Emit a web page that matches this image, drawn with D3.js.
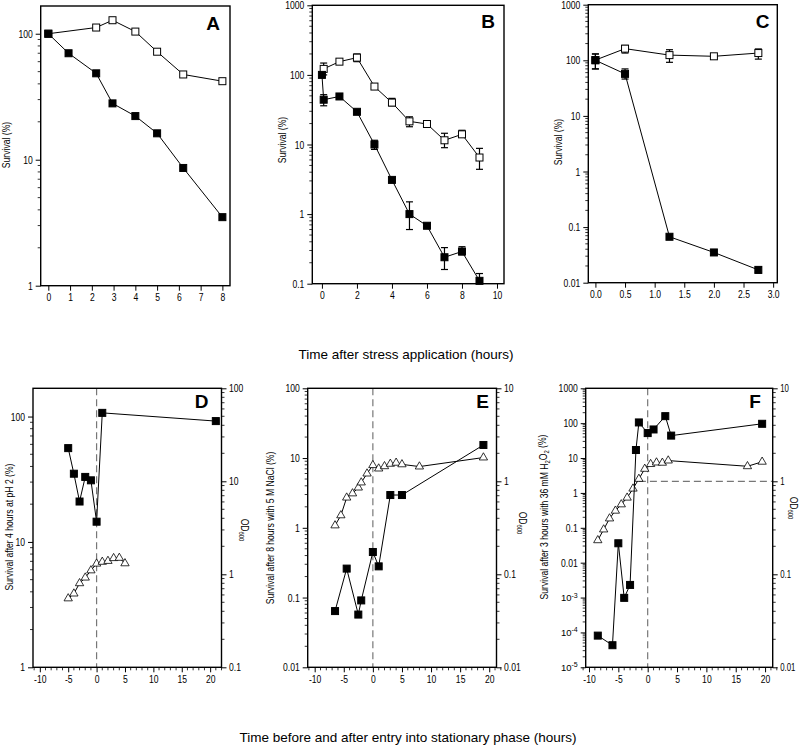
<!DOCTYPE html>
<html><head><meta charset="utf-8">
<script src="https://cdn.jsdelivr.net/npm/d3@7"></script>
<style>
body{margin:0;background:#fff;}
</style></head><body>
<svg id="c" width="800" height="748" style="background:#fff"></svg>
<script>
// ---------- DATA ----------
// Panel A
const aOpenTime   = [0, 2.2, 2.95, 4, 5, 6.2, 8];
const aOpenSurv   = [100, 112, 128, 104, 72, 47.5, 42];
const aFilledTime = [0, 0.93, 2.2, 2.95, 4, 5, 6.2, 8];
const aFilledSurv = [100, 70, 48.5, 28, 22.2, 16.2, 8.6, 3.5];
// Panel B
const bOpenTime   = [0.1, 1, 2, 3, 4, 5, 6, 7, 8, 9];
const bOpenSurv   = [122, 155, 177, 68, 40, 21.5, 19.7, 11.5, 14, 6.5];
const bOpenLo     = [100, null, 155, 63, 36, 18, null, 9, 13, 4.4];
const bOpenHi     = [148, null, 200, 74, 46, 25, null, 14.5, 16, 8.8];
const bFilledTime = [0, 0.1, 1, 2, 3, 4, 5, 6, 7, 8, 9];
const bFilledSurv = [100, 44, 49, 29.5, 10, 3.1, 1.0, 0.68, 0.24, 0.29, 0.11];
const bFilledLo   = [null, 36, null, null, 8.5, null, 0.6, null, 0.16, 0.26, 0.1];
const bFilledHi   = [null, 52, null, null, 11.5, null, 1.5, null, 0.33, 0.34, 0.14];
// Panel C
const cTime       = [0, 0.5, 1.25, 2, 2.75];
const cOpenSurv   = [101, 162, 124, 118, 135];
const cOpenLo     = [70, 135, 92, 112, 105];
const cOpenHi     = [130, 185, 155, 124, 160];
const cFilledSurv = [100, 57, 0.067, 0.035, 0.017];
const cFilledLo   = [70, 46, null, null, 0.015];
const cFilledHi   = [130, 70, null, null, 0.019];
// Panel D
const dSurvTime = [-5, -4, -3, -2, -1, 0, 1, 21];
const dSurv     = [56, 35, 21, 33, 31, 14.5, 107, 92];
const dOdTime   = [-5, -4, -3, -2, -1, 0, 1, 2, 3, 4, 5];
const dOd       = [0.55, 0.62, 0.8, 0.92, 1.1, 1.3, 1.36, 1.39, 1.49, 1.5, 1.31];
// Panel E
const eSurvTime = [-6.5, -4.5, -2.5, -2, 0, 1, 3, 5, 19];
const eSurv     = [0.064, 0.26, 0.057, 0.091, 0.45, 0.28, 2.95, 2.95, 15.4];
const eOdTime   = [-6.5, -5.5, -4.5, -3.5, -2.5, -2, -1, 0, 1, 2, 3, 4, 5, 8, 19];
const eOd       = [0.335, 0.43, 0.667, 0.74, 0.855, 0.97, 1.21, 1.49, 1.37, 1.45, 1.54, 1.58, 1.52, 1.44, 1.8];
// Panel F
const fSurvTime = [-8.5, -6, -5, -4, -3, -2, -1.5, 0, 1, 3, 4, 19.5];
const fSurv     = [8.1e-5, 4.3e-5, 0.036, 9.8e-4, 2.3e-3, 17, 105, 52, 66, 159, 44, 96];
const fOdTime   = [-8.5, -7.5, -6.5, -5.5, -4.5, -3.5, -2.5, -1.5, -0.5, 0.5, 1.5, 2.5, 3.5, 17, 19.5];
const fOd       = [0.232, 0.303, 0.398, 0.482, 0.564, 0.666, 0.833, 1.06, 1.36, 1.53, 1.59, 1.58, 1.67, 1.45, 1.62];

// Tick values / labels
const xTicksA = [0,1,2,3,4,5,6,7,8];
const xLabelsA = ["0","1","2","3","4","5","6","7","8"];
const xTicksB = [0,2,4,6,8,10];
const xLabelsB = ["0","2","4","6","8","10"];
const xTicksC = [0,0.5,1,1.5,2,2.5,3];
const xLabelsC = ["0.0","0.5","1.0","1.5","2.0","2.5","3.0"];
const xTicksBottom = [-10,-5,0,5,10,15,20];
const xLabelsBottom = ["-10","-5","0","5","10","15","20"];
const yTicksA = [1,10,100];           const yLabelsA = ["1","10","100"];
const yTicksB = [0.1,1,10,100,1000];  const yLabelsB = ["0.1","1","10","100","1000"];
const yTicksC = [0.01,0.1,1,10,100,1000]; const yLabelsC = ["0.01","0.1","1","10","100","1000"];
const yTicksD = [1,10,100];           const yLabelsD = ["1","10","100"];
const y2TicksD = [0.1,1,10,100];      const y2LabelsD = ["0.1","1","10","100"];
const yTicksE = [0.01,0.1,1,10,100];  const yLabelsE = ["0.01","0.1","1","10","100"];
const y2TicksE = [0.01,0.1,1,10];     const y2LabelsE = ["0.01","0.1","1","10"];
const yTicksF = [1e-5,1e-4,1e-3,0.01,0.1,1,10,100,1000];
const yLabelsF = ["10^-5","10^-4","10^-3","0.01","0.1","1","10","100","1000"];
const y2TicksF = [0.01,0.1,1,10];     const y2LabelsF = ["0.01","0.1","1","10"];

// ---------- DRAW ----------
const FONT = '"Liberation Sans",Arial,sans-serif';
const FS = 11, CONDENSE = 0.78;
const svg = d3.select('#c');

function condense(sel, f){
  sel.each(function(){
    if(this.querySelector('tspan') && !this.dataset.allow) return;
    const w = this.getComputedTextLength();
    if(w>0) d3.select(this).attr('textLength', w*f).attr('lengthAdjust','spacingAndGlyphs');
  });
}
function logMinor(dom){
  const [a,b] = dom, out=[];
  for(let e=Math.floor(Math.log10(a))-1; e<=Math.ceil(Math.log10(b)); e++)
    for(let k=2;k<=9;k++){ const v=k*Math.pow(10,e); if(v>a*1.0001 && v<b*0.9999) out.push(v); }
  return out;
}
function fmtLabels(sel){
  sel.selectAll('text').each(function(){
    const t = d3.select(this), s = t.text();
    if(s.indexOf('^')>=0){
      const [base,exp] = s.split('^');
      t.text(null).attr('font-size',9.5);
      t.append('tspan').text(base);
      t.append('tspan').attr('dy','-0.5em').attr('font-size','7px').text(exp);
    }
  });
}

function drawPanel(p){
  const x = d3.scaleLinear().domain(p.xDomain).range([p.left,p.right]);
  const y = d3.scaleLog().domain(p.yDomain).range([p.bottom,p.top]);
  const y2 = p.y2Domain ? d3.scaleLog().domain(p.y2Domain).range([p.bottom,p.top]) : null;
  const g = svg.append('g');

  // x axis
  g.append('g').attr('transform',`translate(0,${p.bottom})`)
    .call(d3.axisBottom(x).tickValues(p.xTicks).tickFormat((d,i)=>p.xLabels[i]).tickSize(5).tickPadding(3))
    .call(a=>a.select('.domain').remove())
    .attr('font-family',FONT).attr('font-size',FS)
    .call(a=>condense(a.selectAll('text'),CONDENSE));
  if(p.xMinor){
    g.append('g').selectAll('line').data(p.xMinor).join('line')
      .attr('x1',d=>x(d)).attr('x2',d=>x(d)).attr('y1',p.bottom).attr('y2',p.bottom+3)
      .attr('stroke','#000').attr('stroke-width',0.8);
  }
  // left axis
  g.append('g').attr('transform',`translate(${p.left},0)`)
    .call(d3.axisLeft(y).tickValues(p.yTicks).tickFormat((d,i)=>p.yLabels[i]).tickSize(5).tickPadding(3))
    .call(a=>a.select('.domain').remove())
    .attr('font-family',FONT).attr('font-size',FS)
    .call(fmtLabels)
    .call(a=>condense(a.selectAll('text'),CONDENSE));
  g.append('g').selectAll('line').data(logMinor(p.yDomain)).join('line')
    .attr('x1',p.left).attr('x2',p.left-3).attr('y1',d=>y(d)).attr('y2',d=>y(d))
    .attr('stroke','#000').attr('stroke-width',0.8);
  // right axis
  if(y2){
    g.append('g').attr('transform',`translate(${p.right},0)`)
      .call(d3.axisRight(y2).tickValues(p.y2Ticks).tickFormat((d,i)=>p.y2Labels[i]).tickSize(5).tickPadding(2.5))
      .call(a=>a.select('.domain').remove())
      .attr('font-family',FONT).attr('font-size',p.y2FontSize || FS)
      .call(a=>condense(a.selectAll('text'),CONDENSE));
    g.append('g').selectAll('line').data(logMinor(p.y2Domain)).join('line')
      .attr('x1',p.right).attr('x2',p.right+3).attr('y1',d=>y2(d)).attr('y2',d=>y2(d))
      .attr('stroke','#000').attr('stroke-width',0.8);
  }
  // dashed reference lines
  if(p.zeroLine){
    g.append('line').attr('x1',x(0)).attr('x2',x(0)).attr('y1',p.top).attr('y2',p.bottom)
      .attr('stroke','#777').attr('stroke-width',1.2).attr('stroke-dasharray','7,4');
  }
  if(p.hLine){
    g.append('line').attr('x1',x(p.hLine.from)).attr('x2',p.right).attr('y1',y2(p.hLine.od)).attr('y2',y2(p.hLine.od))
      .attr('stroke','#777').attr('stroke-width',1.2).attr('stroke-dasharray','7,4');
  }
  // frame
  g.append('rect').attr('x',p.left).attr('y',p.top).attr('width',p.right-p.left).attr('height',p.bottom-p.top)
    .attr('fill','none').attr('stroke','#000').attr('stroke-width',1.4);

  // series
  p.series.forEach(s=>{
    const ys = s.axis===2 ? y2 : y;
    const pts = s.xs.map((v,i)=>({x:v,y:s.ys[i],lo:s.lo?s.lo[i]:null,hi:s.hi?s.hi[i]:null}));
    g.append('path').datum(pts)
      .attr('d',d3.line().x(d=>x(d.x)).y(d=>ys(d.y)))
      .attr('fill','none').attr('stroke','#000').attr('stroke-width',1);
    pts.filter(d=>d.lo!=null).forEach(d=>{
      const cx=x(d.x);
      g.append('line').attr('x1',cx).attr('x2',cx).attr('y1',ys(d.lo)).attr('y2',ys(d.hi)).attr('stroke','#000').attr('stroke-width',1.2);
      [d.lo,d.hi].forEach(v=>g.append('line').attr('x1',cx-3.5).attr('x2',cx+3.5).attr('y1',ys(v)).attr('y2',ys(v)).attr('stroke','#000').attr('stroke-width',1.2));
    });
    if(s.shape==='tri'){
      g.append('g').selectAll('path').data(pts).join('path')
        .attr('d',d3.symbol(d3.symbolTriangle,30)())
        .attr('transform',d=>`translate(${x(d.x)},${ys(d.y)})`)
        .attr('fill','#fff').attr('stroke','#000').attr('stroke-width',0.8);
    } else {
      const sz=7;
      g.append('g').selectAll('rect').data(pts).join('rect')
        .attr('x',d=>x(d.x)-sz/2).attr('y',d=>ys(d.y)-sz/2).attr('width',sz).attr('height',sz)
        .attr('fill',s.shape==='filled'?'#000':'#fff').attr('stroke','#000').attr('stroke-width',1);
    }
  });

  // panel letter
  g.append('text').attr('x',p.letterX).attr('y',p.letterY).attr('text-anchor','middle')
    .attr('font-family',FONT).attr('font-weight','bold').attr('font-size',19).text(p.letter);

  // y label (left)
  const yl = g.append('text').attr('transform',`translate(${p.yLabelX},${p.yLabelY}) rotate(-90)`)
    .attr('text-anchor','middle').attr('font-family',FONT).attr('font-size',FS).attr('data-allow','1');
  p.yLabel.forEach(part=>{
    if(part.sub) yl.append('tspan').attr('font-size','7.5px').attr('dy','0.3em').text(part.t);
    else yl.append('tspan').attr('dy', part.after ? '-0.3em' : null).text(part.t);
  });
  condense(yl, CONDENSE);
  if(p.y2Label){
    const t = g.append('text').attr('transform',`translate(${p.y2LabelX},${p.y2LabelY}) rotate(90)`)
      .attr('text-anchor','middle').attr('font-family',FONT).attr('font-size',FS).attr('data-allow','1');
    t.append('tspan').text('OD');
    t.append('tspan').attr('font-size','7.5px').attr('dy','0.3em').text('600');
    condense(t, CONDENSE);
  }
}

const minorBottom = d3.range(-11,23).filter(v=>v%5!==0);

drawPanel({letter:'A',letterX:213,letterY:30,left:40.7,right:230,top:6,bottom:285.7,
  xDomain:[-0.35,8.35],yDomain:[1,166],xTicks:xTicksA,xLabels:xLabelsA,yTicks:yTicksA,yLabels:yLabelsA,
  yLabelX:10,yLabelY:145,yLabel:[{t:'Survival (%)'}],
  series:[{xs:aOpenTime,ys:aOpenSurv,shape:'open'},{xs:aFilledTime,ys:aFilledSurv,shape:'filled'}]});

drawPanel({letter:'B',letterX:488,letterY:28,left:312.3,right:504,top:5.3,bottom:283.7,
  xDomain:[-0.55,10.4],yDomain:[0.1,1000],xTicks:xTicksB,xLabels:xLabelsB,yTicks:yTicksB,yLabels:yLabelsB,
  yLabelX:285.5,yLabelY:140,yLabel:[{t:'Survival (%)'}],
  series:[{xs:bOpenTime,ys:bOpenSurv,lo:bOpenLo,hi:bOpenHi,shape:'open'},
          {xs:bFilledTime,ys:bFilledSurv,lo:bFilledLo,hi:bFilledHi,shape:'filled'}]});

drawPanel({letter:'C',letterX:762.7,letterY:27.5,left:588.3,right:777.3,top:4.7,bottom:282.7,
  xDomain:[-0.12,3.07],yDomain:[0.01,1000],xTicks:xTicksC,xLabels:xLabelsC,yTicks:yTicksC,yLabels:yLabelsC,
  yLabelX:561.5,yLabelY:142,yLabel:[{t:'Survival (%)'}],
  series:[{xs:cTime,ys:cOpenSurv,lo:cOpenLo,hi:cOpenHi,shape:'open'},
          {xs:cTime,ys:cFilledSurv,lo:cFilledLo,hi:cFilledHi,shape:'filled'}]});

drawPanel({letter:'D',letterX:201.7,letterY:408,left:33,right:221.5,top:388.3,bottom:667.3,
  xDomain:[-11.2,22.0],yDomain:[1,168],y2Domain:[0.1,100],xTicks:xTicksBottom,xLabels:xLabelsBottom,xMinor:minorBottom,
  yTicks:yTicksD,yLabels:yLabelsD,y2Ticks:y2TicksD,y2Labels:y2LabelsD,zeroLine:true,
  yLabelX:13.3,yLabelY:527,yLabel:[{t:'Survival after 4 hours at pH 2 (%)'}],
  y2Label:true,y2LabelX:241,y2LabelY:530,
  series:[{xs:dSurvTime,ys:dSurv,shape:'filled'},{xs:dOdTime,ys:dOd,shape:'tri',axis:2}]});

drawPanel({letter:'E',letterX:482.7,letterY:408,left:307.7,right:496.5,top:388.3,bottom:667.3,
  xDomain:[-11.2,21.25],yDomain:[0.01,100],y2Domain:[0.01,10],xTicks:xTicksBottom,xLabels:xLabelsBottom,xMinor:minorBottom,
  yTicks:yTicksE,yLabels:yLabelsE,y2Ticks:y2TicksE,y2Labels:y2LabelsE,zeroLine:true,
  yLabelX:274,yLabelY:528,yLabel:[{t:'Survival after 8 hours with 5 M NaCl (%)'}],
  y2Label:true,y2LabelX:519,y2LabelY:523,
  series:[{xs:eOdTime,ys:eOd,shape:'tri',axis:2},{xs:eSurvTime,ys:eSurv,shape:'filled'}]});

drawPanel({letter:'F',letterX:755,letterY:408,left:585.7,right:772.7,top:388.3,bottom:667.3,
  xDomain:[-10.56,21.3],yDomain:[1e-5,1000],y2Domain:[0.01,10],xTicks:xTicksBottom,xLabels:xLabelsBottom,xMinor:minorBottom,
  yTicks:yTicksF,yLabels:yLabelsF,y2Ticks:y2TicksF,y2Labels:y2LabelsF,zeroLine:true,hLine:{from:-1.5,od:1},
  y2FontSize:10,
  yLabelX:548,yLabelY:517,
  yLabel:[{t:'Survival after 3 hours with 36 mM H'},{t:'2',sub:true},{t:'O',after:true},{t:'2',sub:true},{t:' (%)',after:true}],
  y2Label:true,y2LabelX:790,y2LabelY:508,
  series:[{xs:fOdTime,ys:fOd,shape:'tri',axis:2},{xs:fSurvTime,ys:fSurv,shape:'filled'}]});

// Overall axis titles
svg.append('text').attr('x',406).attr('y',359).attr('text-anchor','middle')
  .attr('font-family',FONT).attr('font-size',13.5).text('Time after stress application (hours)');
svg.append('text').attr('x',408).attr('y',742).attr('text-anchor','middle')
  .attr('font-family',FONT).attr('font-size',13.5).text('Time before and after entry into stationary phase (hours)');
</script>
</body></html>
